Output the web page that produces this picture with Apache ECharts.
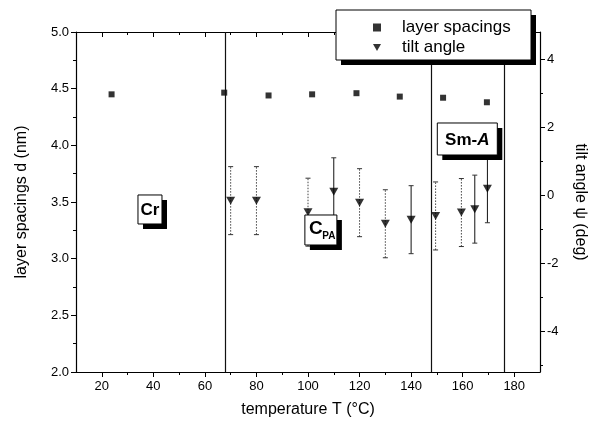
<!DOCTYPE html>
<html><head><meta charset="utf-8">
<script src="https://cdn.jsdelivr.net/npm/echarts@6/dist/echarts.min.js"></script>
<style>html,body{margin:0;padding:0;background:#fff}#c{width:597px;height:427px}</style>
</head><body><div id="c"></div>
<script>
// ---- data ----
const spacingT = [23.8, 67.5, 84.7, 101.6, 118.8, 135.6, 152.4, 169.4];
const spacingD = [4.45, 4.465, 4.44, 4.45, 4.46, 4.43, 4.42, 4.38];
const tiltT   = [70, 80, 100, 110, 120, 130, 140, 149.5, 159.5, 164.7, 169.6];
const tiltPsi = [-0.16, -0.16, -0.5, 0.1, -0.22, -0.84, -0.72, -0.61, -0.51, -0.41, 0.19];
const tiltErr = [1.0, 1.0, 1.0, 1.0, 1.0, 1.0, 1.0, 1.0, 1.0, 1.0, 1.0];
const phaseBoundaries = [68, 148, 176];
const xTicks = [20, 40, 60, 80, 100, 120, 140, 160, 180];
const xMinorTicks = [30, 50, 70, 90, 110, 130, 150, 170];
const psiTicks = [-4, -2, 0, 2, 4];
const psiMinorTicks = [-5, -3, -1, 1, 3];

// ---- styles ----
const FONT = '"Liberation Sans", Arial, Helvetica, sans-serif';
const dottedBars = [true, true, true, false, true, true, false, true, true, false, false];
const TRI = 'path://M0,0L10,0L5,9Z';

const chart = echarts.init(document.getElementById('c'), null, {renderer: 'canvas'});
const axisLine = {show: true, onZero: false, lineStyle: {color: '#000', width: 1.2}};
const noLine = {show: false, onZero: false};
const tickStyle = {color: '#000', width: 1};
const lbl = {color: '#000', fontSize: 13, fontFamily: FONT};
const nameStyle = {color: '#000', fontSize: 16, fontFamily: FONT};

const option = {
  animation: false,
  backgroundColor: '#fff',
  grid: {left: 76, right: 57, top: 32, bottom: 55, containLabel: false},
  xAxis: [
    {type: 'value', min: 10, max: 190, position: 'bottom',
     axisLine: axisLine,
     axisTick: {show: true, customValues: xTicks, length: 5, lineStyle: tickStyle},
     axisLabel: Object.assign({customValues: xTicks, margin: 8}, lbl),
     splitLine: {show: false},
     name: 'temperature T (°C)', nameLocation: 'middle', nameGap: 30, nameTextStyle: nameStyle},
    {type: 'value', min: 10, max: 190, position: 'bottom',
     axisLine: noLine,
     axisTick: {show: true, customValues: xMinorTicks, length: 3, lineStyle: tickStyle},
     axisLabel: {show: false}, splitLine: {show: false}},
    {type: 'value', min: 10, max: 190, position: 'top',
     axisLine: axisLine,
     axisTick: {show: true, inside: true, customValues: xTicks, length: 5, lineStyle: tickStyle},
     axisLabel: {show: false}, splitLine: {show: false}},
    {type: 'value', min: 10, max: 190, position: 'top',
     axisLine: noLine,
     axisTick: {show: true, inside: true, customValues: xMinorTicks, length: 3, lineStyle: tickStyle},
     axisLabel: {show: false}, splitLine: {show: false}}
  ],
  yAxis: [
    {type: 'value', min: 2, max: 5, interval: 0.5, position: 'left',
     axisLine: axisLine,
     axisTick: {show: true, length: 5, lineStyle: tickStyle},
     minorTick: {show: true, splitNumber: 2, length: 3, lineStyle: tickStyle},
     axisLabel: Object.assign({margin: 7, formatter: v => v.toFixed(1)}, lbl),
     splitLine: {show: false},
     name: 'layer spacings d (nm)', nameLocation: 'middle', nameGap: 46, nameRotate: 90, nameTextStyle: nameStyle},
    {type: 'value', min: -5.2, max: 4.8, position: 'right',
     axisLine: axisLine,
     axisTick: {show: true, customValues: psiTicks, length: 5, lineStyle: tickStyle},
     axisLabel: Object.assign({customValues: psiTicks, margin: 7}, lbl),
     splitLine: {show: false},
     name: 'tilt angle \u03C8 (deg)', nameLocation: 'middle', nameGap: 32, nameRotate: -90, nameTextStyle: nameStyle},
    {type: 'value', min: -5.2, max: 4.8, position: 'right',
     axisLine: noLine,
     axisTick: {show: true, customValues: psiMinorTicks, length: 3, lineStyle: tickStyle},
     axisLabel: {show: false}, splitLine: {show: false}}
  ],
  legend: {
    left: 336, top: 10, orient: 'vertical', itemGap: 3, z: 30,
    padding: [9, 16, 8, 37],
    itemWidth: 8, itemHeight: 8,
    textStyle: {fontFamily: FONT, fontSize: 17, color: '#000', padding: [0, 0, 0, 16]},
    data: [{name: 'layer spacings', icon: 'rect'}, {name: 'tilt angle', icon: TRI}]
  },
  series: [
    {name: 'layer spacings', type: 'scatter', xAxisIndex: 0, yAxisIndex: 0,
     symbol: 'rect', symbolSize: 6, itemStyle: {color: '#000'},
     data: spacingT.map((t, i) => [t, spacingD[i]]),
     markLine: {silent: true, symbol: ['none', 'none'], label: {show: false},
       lineStyle: {color: '#111', width: 1.2, type: 'solid'},
       emphasis: {disabled: true},
       data: phaseBoundaries.map(v => ({xAxis: v}))}},
    {type: 'custom', xAxisIndex: 0, yAxisIndex: 1, z: 2,
     data: tiltT.map((t, i) => [t, tiltPsi[i] - tiltErr[i], tiltPsi[i] + tiltErr[i]]),
     renderItem: function (params, api) {
       const x = api.value(0);
       const pLo = api.coord([x, api.value(1)]);
       const pHi = api.coord([x, api.value(2)]);
       const dotted = dottedBars[params.dataIndex];
       const st = {stroke: dotted ? '#444' : '#111', lineWidth: 1, lineDash: dotted ? [1.5, 1.5] : null};
       const cap = {stroke: '#333', lineWidth: 1};
       return {type: 'group', children: [
         {type: 'line', shape: {x1: pLo[0], y1: pLo[1], x2: pHi[0], y2: pHi[1]}, style: st},
         {type: 'line', shape: {x1: pLo[0] - 2.5, y1: pLo[1], x2: pLo[0] + 2.5, y2: pLo[1]}, style: cap},
         {type: 'line', shape: {x1: pHi[0] - 2.5, y1: pHi[1], x2: pHi[0] + 2.5, y2: pHi[1]}, style: cap}
       ]};
     }},
    {name: 'tilt angle', type: 'scatter', xAxisIndex: 0, yAxisIndex: 1, z: 3,
     symbol: TRI, symbolSize: [9, 8], itemStyle: {color: '#000'},
     data: tiltT.map((t, i) => [t, tiltPsi[i]])}
  ]
};
chart.setOption(option);

// boxes with hard drop shadow: legend frame + phase annotations (anchored in data coords)
function shadowBox(x0, y0, w, h, z, extra) {
  return {type: 'group', x: x0, y: y0, children: [
    {type: 'rect', z: z, shape: {x: 5, y: 5, width: w, height: h}, style: {fill: '#000'}},
    {type: 'rect', z: z, shape: {x: 0, y: 0, width: w, height: h}, style: {fill: '#fff', stroke: '#000', lineWidth: 1}}
  ].concat((extra || []).map(e => Object.assign({z: z}, e)))};
}
const phaseLabels = [
  {T: 38.7, d: 3.434, w: 24, h: 29, parts: [{text: 'Cr', size: 17, dx: 0, dy: 0}]},
  {T: 105, d: 3.253, w: 32, h: 30, parts: [{text: 'C', size: 19, dx: -5, dy: -2}, {text: 'PA', size: 10, dx: 8, dy: 5}]},
  {T: 161.8, d: 4.056, w: 60, h: 32, rich: true}
];
const g = [shadowBox(336, 10, 195, 50, 20)];
phaseLabels.forEach(p => {
  const c = chart.convertToPixel({xAxisIndex: 0, yAxisIndex: 0}, [p.T, p.d]);
  const texts = [];
  if (p.rich) {
    texts.push({type: 'text', x: p.w / 2, y: p.h / 2 + 1, style: {
      text: '{a|Sm-}{b|A}', align: 'center', verticalAlign: 'middle',
      rich: {a: {fontSize: 17, fontWeight: 'bold', fontFamily: FONT, fill: '#000'},
             b: {fontSize: 17, fontWeight: 'bold', fontStyle: 'italic', fontFamily: FONT, fill: '#000'}}}});
  } else {
    p.parts.forEach(t => texts.push({type: 'text', x: p.w / 2 + t.dx, y: p.h / 2 + t.dy + 1, style: {
      text: t.text, align: 'center', verticalAlign: 'middle', fontSize: t.size, fontWeight: 'bold',
      fontFamily: FONT, fill: '#000'}}));
  }
  g.push(shadowBox(c[0] - p.w / 2, c[1] - p.h / 2, p.w, p.h, 20, texts));
});
chart.setOption({graphic: {elements: g}});
</script>
</body></html>
